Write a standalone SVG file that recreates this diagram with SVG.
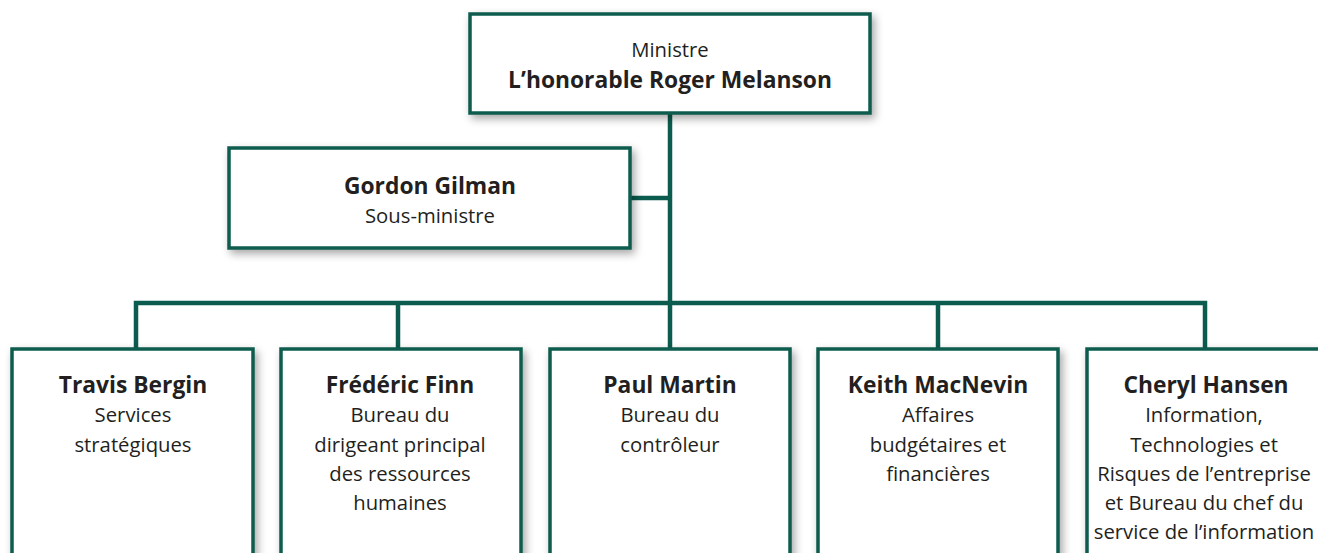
<svg xmlns="http://www.w3.org/2000/svg" width="1318" height="553" viewBox="0 0 1318 553">
<defs>
<filter id="sh" x="-10%" y="-10%" width="130%" height="140%">
<feDropShadow dx="3" dy="4" stdDeviation="4" flood-color="#000" flood-opacity="0.35"/>
</filter>
<style>
.box{fill:#fff;stroke:#0b5c4e;stroke-width:3.5;filter:url(#sh)}
.con{stroke:#0b5c4e;stroke-width:4.5;fill:none}
text{font-family:"Open Sans","Noto Sans","Liberation Sans",sans-serif;font-size:20.3px;fill:#231f20;text-anchor:middle}
.b{font-weight:bold;font-size:22.8px}
</style>
</defs>
<rect width="1318" height="553" fill="#fff"/>
<g id="connectors">
<path class="con" d="M670 113 V303"/>
<path class="con" d="M630 198 H670"/>
<path class="con" d="M136 352 V303 H1205 V352"/>
<path class="con" d="M398 303 V352 M670 303 V352 M938 303 V352"/>
</g>
<g id="minister">
<rect class="box" x="470" y="14" width="400" height="99"/>
<text x="670" y="57">Ministre</text>
<text class="b" x="670" y="88">L’honorable Roger Melanson</text>
</g>
<g id="gilman">
<rect class="box" x="229" y="148" width="401" height="100"/>
<text class="b" x="430" y="194">Gordon Gilman</text>
<text x="430" y="223">Sous-ministre</text>
</g>
<g id="bergin">
<rect class="box" x="12" y="349" width="241" height="230"/>
<text class="b" x="133" y="393">Travis Bergin</text>
<text x="133" y="422">Services</text>
<text x="133" y="452">stratégiques</text>
</g>
<g id="finn">
<rect class="box" x="281" y="349" width="240" height="230"/>
<text class="b" x="400" y="393">Frédéric Finn</text>
<text x="400" y="422">Bureau du</text>
<text x="400" y="452">dirigeant principal</text>
<text x="400" y="481">des ressources</text>
<text x="400" y="510">humaines</text>
</g>
<g id="martin">
<rect class="box" x="550" y="349" width="240" height="230"/>
<text class="b" x="670" y="393">Paul Martin</text>
<text x="670" y="422">Bureau du</text>
<text x="670" y="452">contrôleur</text>
</g>
<g id="macnevin">
<rect class="box" x="818" y="349" width="240" height="230"/>
<text class="b" x="938" y="393">Keith MacNevin</text>
<text x="938" y="422">Affaires</text>
<text x="938" y="452">budgétaires et</text>
<text x="938" y="481">financières</text>
</g>
<g id="hansen">
<rect class="box" x="1087" y="349" width="241" height="230"/>
<text class="b" x="1206" y="393">Cheryl Hansen</text>
<text x="1204" y="422">Information,</text>
<text x="1204" y="452">Technologies et</text>
<text x="1204" y="481">Risques de l’entreprise</text>
<text x="1204" y="510">et Bureau du chef du</text>
<text x="1204" y="539">service de l’information</text>
</g>
</svg>
